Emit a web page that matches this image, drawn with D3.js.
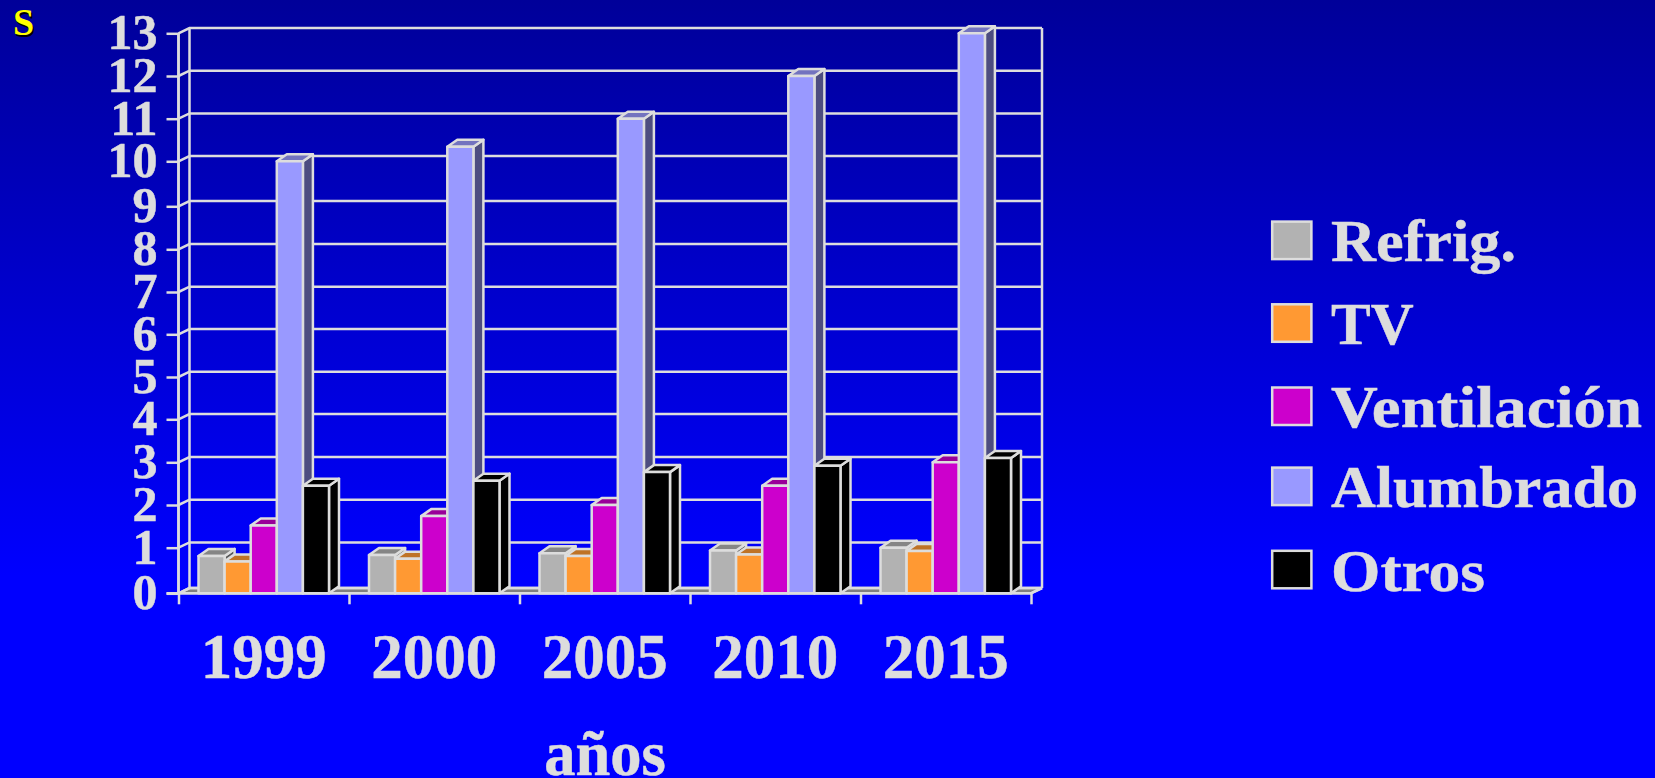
<!DOCTYPE html>
<html><head><meta charset="utf-8">
<script src="https://cdn.jsdelivr.net/npm/d3@7/dist/d3.min.js"></script>
<style>html,body{margin:0;padding:0;overflow:hidden;background:#00f}svg{display:block}text{font-family:"Liberation Serif",serif;font-weight:bold}</style>
</head><body><script>
const years=["1999","2000","2005","2010","2015"];
const seriesNames=["Refrig.","TV","Ventilación","Alumbrado","Otros"];
const refrig=[0.82,0.84,0.88,0.94,1.0];
const tv=[0.7,0.76,0.82,0.85,0.93];
const ventilacion=[1.52,1.74,2.0,2.45,3.0];
const alumbrado=[10,10.34,11,12,13];
const otros=[2.45,2.57,2.77,2.92,3.1];
const seriesValues=[refrig,tv,ventilacion,alumbrado,otros];
const colors=["#b2b2b2","#ff9933","#cc00cc","#9999ff","#000000"];
const topColors=["#858585","#bf7326","#990099","#7373bf","#000000"];
const sideColors=["#595959","#80491a","#660066","#4d4d80","#000000"];
const yTicks=d3.range(0,14);
const W=1655,H=778,line="#dddddd",DX=11,DY=5.3,BDX=10,BDY=7;
const svg=d3.select("body").append("svg").attr("width",W).attr("height",H);
const grad=svg.append("defs").append("linearGradient").attr("id","bg").attr("x1",0).attr("x2",0).attr("y1",0).attr("y2",1);
grad.append("stop").attr("offset",0).attr("stop-color","#000099");
grad.append("stop").attr("offset",0.74).attr("stop-color","#0000ff");
grad.append("stop").attr("offset",1).attr("stop-color","#0000ff");
svg.append("rect").attr("width",W).attr("height",H).attr("fill","url(#bg)");
// the reference's gridlines are not perfectly even, so the scale is piecewise
const y=d3.scaleLinear().domain(yTicks).range([593.3,547.7,505,462.3,419.3,377,334.3,292,249.3,206.3,161.3,118.7,76,33.3]);
const x0=d3.scaleBand().domain(years).range([178.5,1031]);
const x1=d3.scaleBand().domain(seriesNames).range([20,x0.bandwidth()-20]);
const L=178.5,R=1031,B=y(0),T=y(13);
const textStyle=s=>s.attr("fill",line).attr("stroke",line).attr("stroke-width",0.5);
svg.append("path").attr("d",`M${L},${B}L${L+DX},${B-DY}L${R+DX},${B-DY}L${R},${B}Z`).attr("fill","#808080").attr("stroke",line).attr("stroke-width",2.5);
const g=svg.append("g").attr("stroke",line).attr("stroke-width",2.5).attr("fill","none");
g.selectAll(".h").data(yTicks).join("path").attr("d",d=>`M${L},${y(d)}L${L+DX},${y(d)-DY}L${R+DX},${y(d)-DY}`);
g.append("path").attr("d",`M${L},${B}V${T}M${L+DX},${B-DY}V${T-DY}M${R+DX},${B-DY}V${T-DY}M${R},${B}L${R+DX},${B-DY}`);
const groups=svg.selectAll(".year").data(years).join("g").attr("transform",d=>`translate(${x0(d)},0)`);
groups.each(function(yr,i){
  const gg=d3.select(this);
  seriesNames.forEach((s,k)=>{
    const v=seriesValues[k][i],x=x1(s),w=x1.bandwidth(),t=y(v),b=y(0);
    const p=(d,f)=>gg.append("path").attr("d",d).attr("fill",f).attr("stroke",line).attr("stroke-width",2.5).attr("stroke-linejoin","round");
    p(`M${x+w},${t}L${x+w+BDX},${t-BDY}V${b-BDY}L${x+w},${b}Z`,sideColors[k]);
    p(`M${x},${t}L${x+BDX},${t-BDY}H${x+w+BDX}L${x+w},${t}Z`,topColors[k]);
    p(`M${x},${t}H${x+w}V${b}H${x}Z`,colors[k]);
  });
});
const yAxis=d3.axisLeft(y).tickValues(yTicks).tickSize(12).tickPadding(9).tickFormat(d3.format("d"));
const ya=svg.append("g").attr("transform",`translate(${L},0)`).call(yAxis);
const xAxis=d3.axisBottom(d3.scaleLinear().domain([0,years.length]).range([L,R])).ticks(5).tickSize(11).tickFormat("");
const xa=svg.append("g").attr("transform",`translate(0,${B})`).call(xAxis);
[ya,xa].forEach(a=>{a.selectAll("line").attr("stroke",line).attr("stroke-width",2.5);a.select(".domain").attr("stroke",line).attr("stroke-width",2.5);});
ya.select(".domain").attr("d",`M0,${T}V${B}`);
xa.select(".domain").attr("d",`M${L-12},0H${R}`);
ya.selectAll("text").call(textStyle).attr("font-size",50).attr("dy","0.31em");
svg.selectAll(".xl").data(years).join("text").text(d=>d).attr("x",d=>x0(d)+x0.bandwidth()/2).attr("y",677.5).attr("text-anchor","middle").call(textStyle).attr("font-size",63);
svg.append("text").text("años").attr("x",605).attr("y",775).attr("text-anchor","middle").call(textStyle).attr("font-size",62.5);
const ly=d3.scaleOrdinal().domain(seriesNames).range([240.3,323,406.2,486.3,569.5]);
const legendTextWidths=[185,82.6,311,307,154];
const leg=svg.selectAll(".leg").data(seriesNames).join("g").attr("transform",d=>`translate(0,${ly(d)})`);
leg.append("rect").attr("x",1272.2).attr("y",-18.7).attr("width",39.2).attr("height",37.5).attr("fill",(d,i)=>colors[i]).attr("stroke",line).attr("stroke-width",2.5);
leg.append("text").text(d=>d).attr("x",1331).attr("y",21).call(textStyle).attr("font-size",60)
  .attr("textLength",(d,i)=>legendTextWidths[i]).attr("lengthAdjust","spacingAndGlyphs");
svg.append("text").text("S").attr("x",14.5).attr("y",36.5).attr("fill","#000").attr("font-size",38);
svg.append("text").text("S").attr("x",13).attr("y",35).attr("fill","#ffff00").attr("font-size",38);
</script></body></html>
